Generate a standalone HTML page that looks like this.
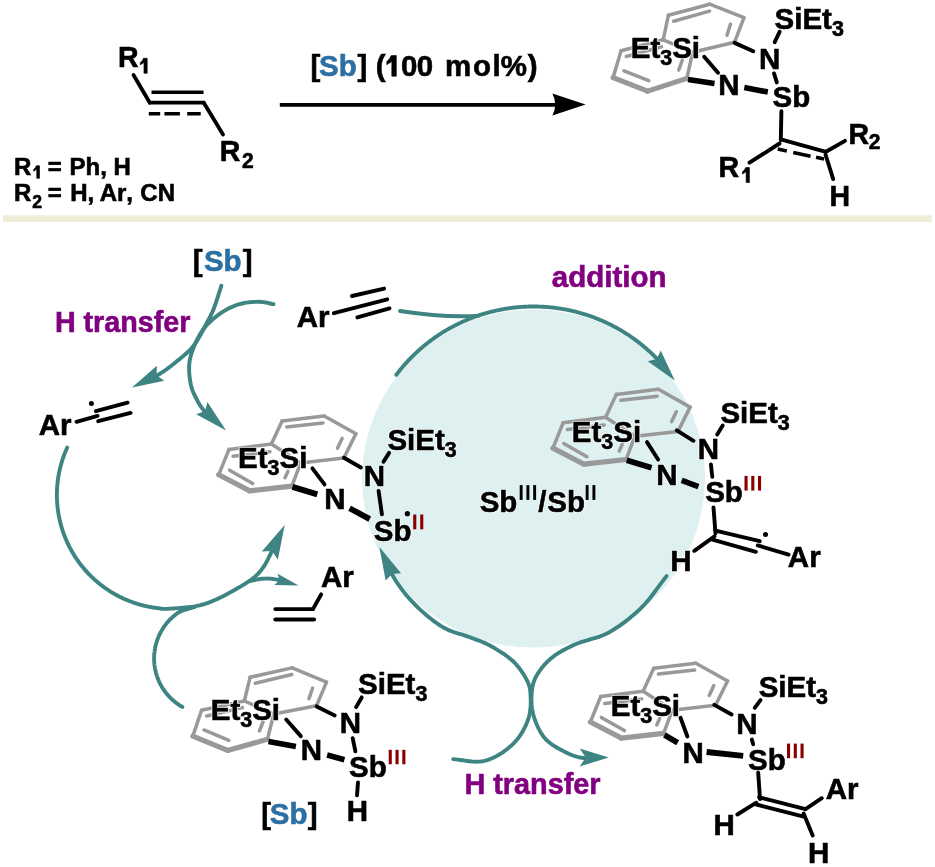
<!DOCTYPE html>
<html><head><meta charset="utf-8"><style>
html,body{margin:0;padding:0;background:#fff;}
svg{display:block;will-change:transform;}
text{white-space:pre;font-family:"Liberation Sans",sans-serif;font-weight:bold;font-kerning:none;}
</style></head><body>
<svg width="935" height="867" viewBox="0 0 935 867">
<rect width="935" height="867" fill="#fff"/>
<text transform="translate(117.99,66.50) scale(1,1.015)" font-size="28.5" fill="#fff" stroke="#fff" stroke-width="2.2" stroke-linejoin="round">R</text><text transform="translate(117.99,66.50) scale(1,1.015)" font-size="28.5" fill="#000" stroke="#000" stroke-width="0.6">R</text>
<path d="M143.53,58.24 L147.22,58.24 L147.22,73.30 L143.96,73.30 L143.96,62.54 Q141.81,64.05 140.30,64.91 L140.30,62.54 Q142.24,61.47 143.53,58.24 Z" fill="#000" stroke="#000" stroke-width="0.6" stroke-linejoin="round"/>
<line x1="133.50" y1="75.00" x2="149.80" y2="102.70" stroke="#000" stroke-width="3.8" stroke-linecap="round"/>
<line x1="149.80" y1="102.70" x2="203.80" y2="102.70" stroke="#000" stroke-width="3.8" stroke-linecap="round"/>
<line x1="203.80" y1="102.70" x2="223.00" y2="134.50" stroke="#000" stroke-width="3.8" stroke-linecap="round"/>
<line x1="151.50" y1="92.30" x2="203.50" y2="92.30" stroke="#000" stroke-width="3.6" stroke-linecap="butt"/>
<line x1="148.8" y1="113.7" x2="200.7" y2="113.7" stroke="#000" stroke-width="3.6" stroke-dasharray="11.4 4.2 15.5 7.3 13.5 100"/>
<text transform="translate(219.79,160.80) scale(1,1.015)" font-size="28.5" fill="#fff" stroke="#fff" stroke-width="2.2" stroke-linejoin="round">R</text><text transform="translate(219.79,160.80) scale(1,1.015)" font-size="28.5" fill="#000" stroke="#000" stroke-width="0.6">R</text>
<text transform="translate(242.07,167.80) scale(1,1.015)" font-size="21" fill="#fff" stroke="#fff" stroke-width="2.2" stroke-linejoin="round">2</text><text transform="translate(242.07,167.80) scale(1,1.015)" font-size="21" fill="#000" stroke="#000" stroke-width="0.6">2</text>
<text transform="translate(13.89,174.50) scale(1,1.015)" font-size="24" fill="#fff" stroke="#fff" stroke-width="2.2" stroke-linejoin="round">R</text><text transform="translate(13.89,174.50) scale(1,1.015)" font-size="24" fill="#000" stroke="#000" stroke-width="0.6">R</text>
<path d="M36.40,165.69 L39.50,165.69 L39.50,178.30 L36.76,178.30 L36.76,169.29 Q34.96,170.55 33.70,171.27 L33.70,169.29 Q35.32,168.39 36.40,165.69 Z" fill="#000" stroke="#000" stroke-width="0.6" stroke-linejoin="round"/>
<text transform="translate(47.80,174.50) scale(1,1.015)" font-size="24" fill="#fff" stroke="#fff" stroke-width="2.2" stroke-linejoin="round">=</text><text transform="translate(47.80,174.50) scale(1,1.015)" font-size="24" fill="#000" stroke="#000" stroke-width="0.6">=</text>
<text transform="translate(69.59,174.50) scale(1,1.015)" font-size="24" fill="#fff" stroke="#fff" stroke-width="2.2" stroke-linejoin="round">Ph,</text><text transform="translate(69.59,174.50) scale(1,1.015)" font-size="24" fill="#000" stroke="#000" stroke-width="0.6">Ph,</text>
<text transform="translate(113.39,174.50) scale(1,1.015)" font-size="24" fill="#fff" stroke="#fff" stroke-width="2.2" stroke-linejoin="round">H</text><text transform="translate(113.39,174.50) scale(1,1.015)" font-size="24" fill="#000" stroke="#000" stroke-width="0.6">H</text>
<text transform="translate(13.89,201.30) scale(1,1.015)" font-size="24" fill="#fff" stroke="#fff" stroke-width="2.2" stroke-linejoin="round">R</text><text transform="translate(13.89,201.30) scale(1,1.015)" font-size="24" fill="#000" stroke="#000" stroke-width="0.6">R</text>
<text transform="translate(32.19,208.20) scale(1,1.015)" font-size="17.5" fill="#fff" stroke="#fff" stroke-width="2.2" stroke-linejoin="round">2</text><text transform="translate(32.19,208.20) scale(1,1.015)" font-size="17.5" fill="#000" stroke="#000" stroke-width="0.6">2</text>
<text transform="translate(47.80,201.30) scale(1,1.015)" font-size="24" fill="#fff" stroke="#fff" stroke-width="2.2" stroke-linejoin="round">=</text><text transform="translate(47.80,201.30) scale(1,1.015)" font-size="24" fill="#000" stroke="#000" stroke-width="0.6">=</text>
<text transform="translate(70.19,201.30) scale(1,1.015)" font-size="24" fill="#fff" stroke="#fff" stroke-width="2.2" stroke-linejoin="round">H,</text><text transform="translate(70.19,201.30) scale(1,1.015)" font-size="24" fill="#000" stroke="#000" stroke-width="0.6">H,</text>
<text transform="translate(99.70,201.30) scale(1,1.015)" font-size="24" fill="#fff" stroke="#fff" stroke-width="2.2" stroke-linejoin="round">Ar,</text><text transform="translate(99.70,201.30) scale(1,1.015)" font-size="24" fill="#000" stroke="#000" stroke-width="0.6">Ar,</text>
<text transform="translate(140.32,201.30) scale(1,1.015)" font-size="24" fill="#fff" stroke="#fff" stroke-width="2.2" stroke-linejoin="round">CN</text><text transform="translate(140.32,201.30) scale(1,1.015)" font-size="24" fill="#000" stroke="#000" stroke-width="0.6">CN</text>
<text transform="translate(310.54,76.40) scale(1,1.015)" font-size="29.5" fill="#fff" stroke="#fff" stroke-width="2.2" stroke-linejoin="round">[</text><text transform="translate(310.54,76.40) scale(1,1.015)" font-size="29.5" fill="#000" stroke="#000" stroke-width="0.6">[</text>
<text transform="translate(319.05,76.40) scale(1,1.015)" font-size="29.5" fill="#fff" stroke="#fff" stroke-width="2.2" stroke-linejoin="round">Sb</text><text transform="translate(319.05,76.40) scale(1,1.015)" font-size="29.5" fill="#2c6fa3" stroke="#2c6fa3" stroke-width="0.6">Sb</text>
<text transform="translate(357.44,76.40) scale(1,1.015)" font-size="29.5" fill="#fff" stroke="#fff" stroke-width="2.2" stroke-linejoin="round">]</text><text transform="translate(357.44,76.40) scale(1,1.015)" font-size="29.5" fill="#000" stroke="#000" stroke-width="0.6">]</text>
<text transform="translate(375.63,76.40) scale(1,1.015)" font-size="29.5" fill="#fff" stroke="#fff" stroke-width="2.2" stroke-linejoin="round">(</text><text transform="translate(375.63,76.40) scale(1,1.015)" font-size="29.5" fill="#000" stroke="#000" stroke-width="0.6">(</text>
<path d="M391.23,55.54 L396.30,55.54 L396.30,76.20 L391.81,76.20 L391.81,61.44 Q388.87,63.50 386.80,64.68 L386.80,61.44 Q389.45,59.96 391.23,55.54 Z" fill="#000" stroke="#000" stroke-width="0.6" stroke-linejoin="round"/>
<text transform="translate(401.03,76.40) scale(1,1.015)" font-size="29.5" fill="#fff" stroke="#fff" stroke-width="2.2" stroke-linejoin="round">0</text><text transform="translate(401.03,76.40) scale(1,1.015)" font-size="29.5" fill="#000" stroke="#000" stroke-width="0.6">0</text>
<text transform="translate(416.73,76.40) scale(1,1.015)" font-size="29.5" fill="#fff" stroke="#fff" stroke-width="2.2" stroke-linejoin="round">0</text><text transform="translate(416.73,76.40) scale(1,1.015)" font-size="29.5" fill="#000" stroke="#000" stroke-width="0.6">0</text>
<text transform="translate(445.06,76.40) scale(1,1.015)" font-size="29.5" fill="#fff" stroke="#fff" stroke-width="2.2" stroke-linejoin="round">m</text><text transform="translate(445.06,76.40) scale(1,1.015)" font-size="29.5" fill="#000" stroke="#000" stroke-width="0.6">m</text>
<text transform="translate(473.05,76.40) scale(1,1.015)" font-size="29.5" fill="#fff" stroke="#fff" stroke-width="2.2" stroke-linejoin="round">o</text><text transform="translate(473.05,76.40) scale(1,1.015)" font-size="29.5" fill="#000" stroke="#000" stroke-width="0.6">o</text>
<text transform="translate(492.44,76.40) scale(1,1.015)" font-size="29.5" fill="#fff" stroke="#fff" stroke-width="2.2" stroke-linejoin="round">l</text><text transform="translate(492.44,76.40) scale(1,1.015)" font-size="29.5" fill="#000" stroke="#000" stroke-width="0.6">l</text>
<text transform="translate(500.77,76.40) scale(1,1.015)" font-size="29.5" fill="#fff" stroke="#fff" stroke-width="2.2" stroke-linejoin="round">%</text><text transform="translate(500.77,76.40) scale(1,1.015)" font-size="29.5" fill="#000" stroke="#000" stroke-width="0.6">%</text>
<text transform="translate(527.67,76.40) scale(1,1.015)" font-size="29.5" fill="#fff" stroke="#fff" stroke-width="2.2" stroke-linejoin="round">)</text><text transform="translate(527.67,76.40) scale(1,1.015)" font-size="29.5" fill="#000" stroke="#000" stroke-width="0.6">)</text>
<line x1="279.80" y1="104.90" x2="560.00" y2="104.90" stroke="#000" stroke-width="3.9" stroke-linecap="butt"/>
<path d="M585.6,104.6 L552.4,93.6 Q558,104.6 552.4,115.6 Z" fill="#000"/>
<line x1="668.40" y1="15.20" x2="709.70" y2="4.20" stroke="#999999" stroke-width="3.5" stroke-linecap="round"/>
<line x1="709.70" y1="4.20" x2="744.00" y2="17.70" stroke="#999999" stroke-width="3.5" stroke-linecap="round"/>
<line x1="744.00" y1="17.70" x2="734.60" y2="42.20" stroke="#999999" stroke-width="3.5" stroke-linecap="round"/>
<line x1="734.60" y1="42.20" x2="692.60" y2="52.20" stroke="#999999" stroke-width="3.5" stroke-linecap="round"/>
<line x1="692.60" y1="52.20" x2="663.20" y2="39.80" stroke="#999999" stroke-width="3.5" stroke-linecap="round"/>
<line x1="663.20" y1="39.80" x2="668.40" y2="15.20" stroke="#999999" stroke-width="3.5" stroke-linecap="round"/>
<line x1="663.20" y1="39.80" x2="621.10" y2="50.70" stroke="#999999" stroke-width="3.5" stroke-linecap="round"/>
<line x1="621.10" y1="50.70" x2="613.10" y2="77.60" stroke="#999999" stroke-width="3.5" stroke-linecap="round"/>
<line x1="686.90" y1="78.40" x2="692.60" y2="52.20" stroke="#999999" stroke-width="3.5" stroke-linecap="round"/>
<line x1="613.10" y1="77.60" x2="647.70" y2="91.10" stroke="#999999" stroke-width="5.2" stroke-linecap="round"/>
<line x1="647.70" y1="91.10" x2="686.90" y2="78.40" stroke="#999999" stroke-width="5.2" stroke-linecap="round"/>
<line x1="673.60" y1="21.30" x2="709.50" y2="11.10" stroke="#999999" stroke-width="3.5" stroke-linecap="round"/>
<line x1="730.40" y1="24.20" x2="727.00" y2="35.30" stroke="#999999" stroke-width="3.5" stroke-linecap="round"/>
<line x1="661.50" y1="46.70" x2="626.30" y2="56.50" stroke="#999999" stroke-width="3.5" stroke-linecap="round"/>
<line x1="624.00" y1="70.90" x2="648.80" y2="80.70" stroke="#999999" stroke-width="3.5" stroke-linecap="round"/>
<line x1="678.80" y1="70.00" x2="682.20" y2="60.50" stroke="#999999" stroke-width="3.5" stroke-linecap="round"/>
<text transform="translate(630.73,57.70) scale(1,1.015)" font-size="29.5" fill="#fff" stroke="#fff" stroke-width="2.2" stroke-linejoin="round">Et</text>
<text transform="translate(660.23,64.70) scale(1,1.015)" font-size="21.5" fill="#fff" stroke="#fff" stroke-width="2.2" stroke-linejoin="round">3</text>
<text transform="translate(672.18,57.70) scale(1,1.015)" font-size="29.5" fill="#fff" stroke="#fff" stroke-width="2.2" stroke-linejoin="round">Si</text>
<text transform="translate(630.73,57.70) scale(1,1.015)" font-size="29.5" fill="#000" stroke="#000" stroke-width="0.6">Et</text>
<text transform="translate(660.23,64.70) scale(1,1.015)" font-size="21.5" fill="#000" stroke="#000" stroke-width="0.6">3</text>
<text transform="translate(672.18,57.70) scale(1,1.015)" font-size="29.5" fill="#000" stroke="#000" stroke-width="0.6">Si</text>
<text transform="translate(774.55,28.80) scale(1,1.015)" font-size="29.5" fill="#fff" stroke="#fff" stroke-width="2.2" stroke-linejoin="round">SiEt</text>
<text transform="translate(831.92,35.80) scale(1,1.015)" font-size="21.5" fill="#fff" stroke="#fff" stroke-width="2.2" stroke-linejoin="round">3</text>
<text transform="translate(774.55,28.80) scale(1,1.015)" font-size="29.5" fill="#000" stroke="#000" stroke-width="0.6">SiEt</text>
<text transform="translate(831.92,35.80) scale(1,1.015)" font-size="21.5" fill="#000" stroke="#000" stroke-width="0.6">3</text>
<text transform="translate(758.93,68.50) scale(1,1.015)" font-size="29.5" fill="#fff" stroke="#fff" stroke-width="2.2" stroke-linejoin="round">N</text><text transform="translate(758.93,68.50) scale(1,1.015)" font-size="29.5" fill="#000" stroke="#000" stroke-width="0.6">N</text>
<text transform="translate(718.13,95.30) scale(1,1.015)" font-size="29.5" fill="#fff" stroke="#fff" stroke-width="2.2" stroke-linejoin="round">N</text><text transform="translate(718.13,95.30) scale(1,1.015)" font-size="29.5" fill="#000" stroke="#000" stroke-width="0.6">N</text>
<text transform="translate(772.55,106.50) scale(1,1.015)" font-size="29.5" fill="#fff" stroke="#fff" stroke-width="2.2" stroke-linejoin="round">Sb</text><text transform="translate(772.55,106.50) scale(1,1.015)" font-size="29.5" fill="#000" stroke="#000" stroke-width="0.6">Sb</text>
<line x1="734.60" y1="42.90" x2="753.30" y2="51.20" stroke="#000" stroke-width="3.9" stroke-linecap="round"/>
<line x1="774.70" y1="42.20" x2="779.60" y2="31.80" stroke="#000" stroke-width="3.9" stroke-linecap="round"/>
<line x1="774.00" y1="73.40" x2="776.80" y2="82.40" stroke="#000" stroke-width="3.9" stroke-linecap="round"/>
<line x1="704.20" y1="56.70" x2="718.00" y2="72.70" stroke="#000" stroke-width="3.9" stroke-linecap="round"/>
<line x1="688.00" y1="79.60" x2="714.50" y2="83.50" stroke="#000" stroke-width="5.6" stroke-linecap="butt"/>
<line x1="744.30" y1="87.60" x2="767.80" y2="92.00" stroke="#000" stroke-width="5.6" stroke-linecap="butt"/>
<line x1="781.40" y1="111.30" x2="780.80" y2="140.00" stroke="#000" stroke-width="3.9" stroke-linecap="round"/>
<line x1="780.80" y1="139.30" x2="825.90" y2="151.80" stroke="#000" stroke-width="3.9" stroke-linecap="round"/>
<line x1="779.50" y1="143.50" x2="749.50" y2="162.70" stroke="#000" stroke-width="3.9" stroke-linecap="round"/>
<line x1="825.90" y1="151.80" x2="845.00" y2="140.90" stroke="#000" stroke-width="3.9" stroke-linecap="round"/>
<line x1="825.50" y1="154.50" x2="833.20" y2="179.10" stroke="#000" stroke-width="3.9" stroke-linecap="round"/>
<line x1="777.7" y1="149.1" x2="824.1" y2="159.1" stroke="#000" stroke-width="3.6" stroke-dasharray="9.3 6.6 17.7 5.6 8.4 100"/>
<text transform="translate(718.59,177.30) scale(1,1.015)" font-size="28.5" fill="#fff" stroke="#fff" stroke-width="2.2" stroke-linejoin="round">R</text><text transform="translate(718.59,177.30) scale(1,1.015)" font-size="28.5" fill="#000" stroke="#000" stroke-width="0.6">R</text>
<path d="M745.73,167.44 L749.42,167.44 L749.42,182.50 L746.15,182.50 L746.15,171.74 Q744.00,173.25 742.50,174.11 L742.50,171.74 Q744.43,170.67 745.73,167.44 Z" fill="#000" stroke="#000" stroke-width="0.6" stroke-linejoin="round"/>
<text transform="translate(848.59,143.60) scale(1,1.015)" font-size="28.5" fill="#fff" stroke="#fff" stroke-width="2.2" stroke-linejoin="round">R</text><text transform="translate(848.59,143.60) scale(1,1.015)" font-size="28.5" fill="#000" stroke="#000" stroke-width="0.6">R</text>
<text transform="translate(868.77,149.10) scale(1,1.015)" font-size="21" fill="#fff" stroke="#fff" stroke-width="2.2" stroke-linejoin="round">2</text><text transform="translate(868.77,149.10) scale(1,1.015)" font-size="21" fill="#000" stroke="#000" stroke-width="0.6">2</text>
<text transform="translate(829.49,205.50) scale(1,1.015)" font-size="28.5" fill="#fff" stroke="#fff" stroke-width="2.2" stroke-linejoin="round">H</text><text transform="translate(829.49,205.50) scale(1,1.015)" font-size="28.5" fill="#000" stroke="#000" stroke-width="0.6">H</text>
<rect x="3" y="215.3" width="929" height="6.7" fill="#edecd6"/>
<ellipse cx="533.5" cy="478.5" rx="171.5" ry="169" fill="#def0f0"/>
<path d="M396.32,374.75 L396.88,374.05 L397.44,373.34 L398.00,372.63 L398.56,371.93 L399.12,371.22 L399.68,370.51 L400.24,369.81 L400.81,369.10 L401.37,368.40 L401.95,367.71 L402.53,367.02 L403.11,366.33 L403.70,365.65 L404.29,364.97 L404.89,364.29 L405.49,363.62 L406.09,362.95 L406.70,362.28 L407.31,361.62 L407.93,360.96 L408.55,360.30 L409.17,359.65 L409.79,359.00 L410.42,358.35 L411.05,357.71 L411.68,357.07 L412.32,356.43 L412.96,355.80 L413.61,355.17 L414.26,354.54 L414.91,353.92 L415.56,353.30 L416.22,352.68 L416.88,352.07 L417.55,351.46 L418.22,350.85 L418.89,350.25 L419.56,349.65 L420.24,349.06 L420.92,348.47 L421.60,347.88 L422.29,347.29 L422.98,346.71 L423.67,346.13 L424.36,345.56 L425.06,344.99 L425.76,344.42 L426.47,343.86 L427.18,343.30 L427.89,342.74 L428.60,342.19 L429.31,341.64 L430.03,341.10 L430.76,340.56 L431.48,340.02 L432.21,339.49 L432.94,338.96 L433.67,338.44 L434.41,337.91 L435.14,337.40 L435.88,336.88 L436.63,336.37 L437.37,335.87 L438.12,335.37 L438.88,334.87 L439.63,334.37 L440.39,333.88 L441.15,333.40 L441.91,332.91 L442.67,332.44 L443.44,331.96 L444.21,331.49 L444.98,331.03 L445.76,330.56 L446.53,330.11 L447.31,329.65 L448.09,329.20 L448.88,328.76 L449.66,328.32 L450.45,327.88 L451.24,327.44 L452.04,327.02 L452.83,326.59 L453.63,326.17 L454.43,325.75 L455.23,325.34 L456.03,324.93 L456.84,324.53 L457.65,324.13 L458.46,323.73 L459.27,323.34 L460.09,322.96 L460.90,322.57 L461.72,322.19 L462.54,321.82 L463.36,321.45 L464.19,321.08 L465.01,320.72 L465.84,320.37 L466.67,320.01 L467.50,319.67 L468.34,319.32 L469.17,318.98 L470.01,318.65 L470.85,318.32 L471.69,317.99 L472.53,317.67 L473.37,317.35 L474.22,317.04 L475.07,316.73 L475.92,316.43 L476.77,316.13 L477.62,315.83 L478.47,315.54 L479.33,315.25 L480.18,314.97 L481.04,314.69 L481.90,314.42 L482.76,314.15 L483.62,313.89 L484.49,313.63 L485.35,313.38 L486.22,313.13 L487.09,312.88 L487.95,312.64 L488.83,312.40 L489.70,312.17 L490.57,311.94 L491.44,311.72 L492.32,311.50 L493.19,311.29 L494.07,311.08 L494.95,310.88 L495.83,310.68 L496.71,310.48 L497.59,310.29 L498.47,310.10 L499.36,309.92 L500.24,309.75 L501.13,309.57 L502.01,309.41 L502.90,309.24 L503.79,309.09 L504.67,308.93 L505.56,308.78 L506.45,308.64 L507.34,308.50 L508.23,308.37 L509.13,308.24 L510.02,308.11 L510.91,307.99 L511.81,307.87 L512.70,307.76 L513.60,307.66 L514.49,307.55 L515.39,307.46 L516.29,307.36 L517.18,307.28 L518.08,307.19 L518.98,307.11 L519.88,307.04 L520.78,306.97 L521.68,306.91 L522.58,306.85 L523.48,306.79 L524.38,306.74 L525.28,306.70 L526.18,306.66 L527.08,306.62 L527.98,306.59 L528.88,306.56 L529.78,306.54 L530.69,306.52 L531.59,306.51 L532.49,306.50 L533.39,306.50 L534.29,306.50 L535.19,306.51 L536.10,306.52 L537.00,306.54 L537.90,306.56 L538.80,306.58 L539.70,306.61 L540.60,306.65 L541.50,306.69 L542.40,306.73 L543.30,306.78 L544.20,306.83 L545.10,306.89 L546.00,306.96 L546.90,307.02 L547.80,307.10 L548.70,307.17 L549.60,307.25 L550.49,307.34 L551.39,307.43 L552.29,307.53 L553.18,307.63 L554.08,307.74 L554.98,307.85 L555.87,307.96 L556.76,308.08 L557.66,308.20 L558.55,308.33 L559.44,308.47 L560.33,308.61 L561.22,308.75 L562.11,308.90 L563.00,309.05 L563.89,309.21 L564.77,309.37 L565.66,309.53 L566.55,309.70 L567.43,309.88 L568.31,310.06 L569.20,310.24 L570.08,310.43 L570.96,310.63 L571.84,310.83 L572.72,311.03 L573.59,311.24 L574.47,311.45 L575.35,311.67 L576.22,311.89 L577.09,312.12 L577.96,312.35 L578.83,312.58 L579.70,312.82 L580.57,313.07 L581.44,313.32 L582.30,313.57 L583.17,313.83 L584.03,314.09 L584.89,314.36 L585.75,314.63 L586.61,314.90 L587.47,315.19 L588.32,315.47 L589.18,315.76 L590.03,316.05 L590.88,316.35 L591.73,316.66 L592.57,316.96 L593.42,317.27 L594.27,317.59 L595.11,317.91 L595.95,318.24 L596.79,318.57 L597.63,318.90 L598.46,319.24 L599.30,319.58 L600.13,319.93 L600.96,320.28 L601.79,320.64 L602.61,321.00 L603.44,321.36 L604.26,321.73 L605.08,322.10 L605.90,322.48 L606.72,322.86 L607.53,323.25 L608.35,323.64 L609.16,324.03 L609.96,324.43 L610.77,324.83 L611.58,325.24 L612.38,325.65 L613.18,326.07 L613.98,326.49 L614.77,326.91 L615.57,327.34 L616.36,327.77 L617.15,328.21 L617.93,328.65 L618.72,329.09 L619.50,329.54 L620.28,330.00 L621.06,330.45 L621.83,330.91 L622.60,331.38 L623.37,331.85 L624.14,332.32 L624.91,332.80 L625.67,333.28 L626.43,333.77 L627.19,334.25 L627.94,334.75 L628.69,335.24 L629.44,335.74 L630.19,336.25 L630.93,336.76 L631.68,337.27 L632.41,337.79 L633.15,338.31 L633.89,338.83 L634.62,339.36 L635.34,339.89 L636.07,340.43 L636.79,340.97 L637.51,341.51 L638.23,342.06 L638.94,342.61 L639.65,343.16 L640.36,343.72 L641.07,344.28 L641.77,344.85 L642.47,345.42 L643.16,345.99 L643.86,346.57 L644.55,347.15 L645.23,347.73 L645.92,348.32 L646.60,348.91 L647.28,349.51 L647.95,350.11 L648.62,350.71 L649.29,351.31 L649.96,351.92 L650.62,352.53 L651.28,353.15 L651.93,353.77 L652.58,354.39 L653.23,355.02 L653.88,355.65 L654.52,356.28 L655.16,356.91 L655.80,357.55 L656.43,358.20 L657.06,358.84 L657.68,359.49" stroke="#3d8482" stroke-width="3.9" fill="none" stroke-linecap="round" stroke-linejoin="round"/>
<polygon points="674.79,380.41 647.70,361.37 656.78,358.97 660.72,350.44" fill="#3d8482"/>
<path d="M400,311 C425,314.8 455,317.6 479,315.6" stroke="#3d8482" stroke-width="3.9" fill="none" stroke-linecap="round"/>
<path d="M453.20,759.10 L455.50,759.33 L457.85,759.62 L460.21,759.95 L462.59,760.29 L464.96,760.64 L467.32,760.96 L469.67,761.25 L471.97,761.49 L474.23,761.65 L476.43,761.71 L478.55,761.67 L480.60,761.50 L482.57,761.21 L484.47,760.83 L486.31,760.37 L488.09,759.83 L489.83,759.21 L491.53,758.52 L493.19,757.78 L494.83,756.97 L496.44,756.12 L498.04,755.22 L499.62,754.28 L501.20,753.30 L502.78,752.28 L504.35,751.19 L505.92,750.04 L507.47,748.84 L508.99,747.58 L510.49,746.28 L511.95,744.94 L513.37,743.55 L514.74,742.13 L516.05,740.68 L517.31,739.20 L518.50,737.70 L519.64,736.15 L520.73,734.55 L521.79,732.89 L522.80,731.18 L523.76,729.44 L524.67,727.67 L525.53,725.89 L526.33,724.10 L527.07,722.30 L527.75,720.51 L528.36,718.74 L528.90,717.00 L529.36,715.25 L529.75,713.48 L530.06,711.69 L530.30,709.88 L530.49,708.08 L530.62,706.28 L530.70,704.50 L530.74,702.75 L530.74,701.04 L530.72,699.37 L530.67,697.75 L530.60,696.20 L530.52,694.73 L530.44,693.34 L530.33,692.02 L530.20,690.74 L530.03,689.51 L529.82,688.29 L529.55,687.08 L529.22,685.87 L528.82,684.62 L528.34,683.34 L527.77,682.01 L527.10,680.60 L526.34,679.12 L525.50,677.58 L524.58,675.99 L523.59,674.36 L522.52,672.71 L521.39,671.04 L520.19,669.38 L518.93,667.73 L517.60,666.10 L516.22,664.52 L514.79,662.98 L513.30,661.50 L511.72,660.06 L510.03,658.63 L508.25,657.21 L506.38,655.81 L504.46,654.44 L502.49,653.10 L500.50,651.79 L498.50,650.53 L496.51,649.31 L494.55,648.15 L492.64,647.04 L490.80,646.00 L489.03,645.04 L487.31,644.17 L485.63,643.38 L483.97,642.65 L482.33,641.96 L480.68,641.31 L479.02,640.68 L477.33,640.05 L475.60,639.41 L473.81,638.75 L471.94,638.05 L470.00,637.30 L467.97,636.55 L465.87,635.84 L463.70,635.16 L461.48,634.49 L459.22,633.80 L456.93,633.09 L454.61,632.34 L452.27,631.51 L449.94,630.61 L447.61,629.60 L445.29,628.47 L443.00,627.20 L440.70,625.79 L438.36,624.25 L435.98,622.59 L433.59,620.84 L431.20,619.01 L428.81,617.11 L426.45,615.15 L424.12,613.14 L421.84,611.11 L419.61,609.07 L417.46,607.03 L415.40,605.00 L413.41,602.97 L411.47,600.93 L409.59,598.86 L407.76,596.77 L405.97,594.66 L404.22,592.51 L402.53,590.32 L400.87,588.10 L399.25,585.84 L397.66,583.54 L396.12,581.20 L394.60,578.80 L393.14,576.34 L391.74,573.81" stroke="#3d8482" stroke-width="3.9" fill="none" stroke-linecap="round" stroke-linejoin="round"/>
<polygon points="379.40,546.90 401.06,573.21 392.09,574.09 385.65,580.40" fill="#3d8482"/>
<path d="M666.60,576.10 L664.46,578.82 L662.36,581.58 L660.28,584.36 L658.20,587.16 L656.13,589.96 L654.05,592.75 L651.95,595.51 L649.81,598.23 L647.63,600.89 L645.39,603.48 L643.08,605.99 L640.70,608.40 L638.23,610.75 L635.69,613.06 L633.08,615.34 L630.41,617.57 L627.70,619.75 L624.95,621.86 L622.18,623.90 L619.40,625.86 L616.62,627.73 L613.86,629.49 L611.11,631.16 L608.40,632.70 L605.68,634.09 L602.93,635.30 L600.15,636.37 L597.35,637.33 L594.56,638.19 L591.78,638.99 L589.02,639.75 L586.30,640.51 L583.64,641.28 L581.04,642.11 L578.53,643.00 L576.10,644.00 L573.75,645.06 L571.44,646.13 L569.18,647.21 L566.97,648.31 L564.81,649.43 L562.71,650.57 L560.66,651.74 L558.68,652.93 L556.76,654.16 L554.90,655.43 L553.12,656.74 L551.40,658.10 L549.75,659.51 L548.14,660.98 L546.60,662.50 L545.11,664.07 L543.68,665.66 L542.32,667.29 L541.04,668.93 L539.83,670.58 L538.69,672.23 L537.64,673.87 L536.68,675.50 L535.80,677.10 L535.02,678.68 L534.35,680.26 L533.77,681.83 L533.28,683.40 L532.86,684.97 L532.52,686.54 L532.24,688.12 L532.01,689.70 L531.83,691.30 L531.69,692.92 L531.58,694.55 L531.50,696.20 L531.45,697.87 L531.43,699.57 L531.46,701.28 L531.54,703.01 L531.66,704.75 L531.83,706.50 L532.05,708.25 L532.33,710.01 L532.66,711.77 L533.05,713.52 L533.49,715.26 L534.00,717.00 L534.57,718.75 L535.19,720.55 L535.88,722.37 L536.62,724.21 L537.41,726.04 L538.26,727.86 L539.16,729.65 L540.11,731.40 L541.12,733.10 L542.16,734.72 L543.26,736.26 L544.40,737.70 L545.60,739.05 L546.87,740.33 L548.21,741.54 L549.60,742.69 L551.05,743.78 L552.53,744.83 L554.05,745.82 L555.60,746.78 L557.16,747.70 L558.74,748.59 L560.32,749.45 L561.90,750.30 L563.47,751.13 L565.05,751.94 L566.63,752.72 L568.23,753.47 L569.85,754.19 L571.49,754.86 L573.16,755.49 L574.87,756.07 L576.62,756.60 L578.43,757.07 L580.28,757.47 L582.20,757.80 L584.19,758.04 L586.26,758.19" stroke="#3d8482" stroke-width="3.9" fill="none" stroke-linecap="round" stroke-linejoin="round"/>
<polygon points="608.70,757.40 579.72,766.47 585.70,757.45 579.68,748.47" fill="#3d8482"/>
<text transform="translate(192.74,271.30) scale(1,1.015)" font-size="29.5" fill="#fff" stroke="#fff" stroke-width="2.2" stroke-linejoin="round">[</text><text transform="translate(192.74,271.30) scale(1,1.015)" font-size="29.5" fill="#000" stroke="#000" stroke-width="0.6">[</text>
<text transform="translate(203.95,271.30) scale(1,1.015)" font-size="29.5" fill="#fff" stroke="#fff" stroke-width="2.2" stroke-linejoin="round">Sb</text><text transform="translate(203.95,271.30) scale(1,1.015)" font-size="29.5" fill="#2c6fa3" stroke="#2c6fa3" stroke-width="0.6">Sb</text>
<text transform="translate(242.64,271.30) scale(1,1.015)" font-size="29.5" fill="#fff" stroke="#fff" stroke-width="2.2" stroke-linejoin="round">]</text><text transform="translate(242.64,271.30) scale(1,1.015)" font-size="29.5" fill="#000" stroke="#000" stroke-width="0.6">]</text>
<text transform="translate(54.88,332.00) scale(1,1.015)" font-size="28.7" fill="#fff" stroke="#fff" stroke-width="2.2" stroke-linejoin="round">H transfer</text><text transform="translate(54.88,332.00) scale(1,1.015)" font-size="28.7" fill="#800080" stroke="#800080" stroke-width="0.6">H transfer</text>
<path d="M221.40,285.70 L220.78,287.58 L220.16,289.51 L219.53,291.47 L218.91,293.44 L218.28,295.41 L217.66,297.37 L217.03,299.30 L216.41,301.18 L215.80,303.01 L215.19,304.76 L214.59,306.43 L214.00,308.00 L213.44,309.43 L212.92,310.70 L212.44,311.86 L211.97,312.92 L211.51,313.93 L211.04,314.91 L210.55,315.90 L210.03,316.92 L209.45,318.01 L208.81,319.20 L208.10,320.52 L207.30,322.00 L206.41,323.66 L205.46,325.48 L204.45,327.43 L203.38,329.47 L202.26,331.58 L201.10,333.73 L199.90,335.89 L198.68,338.02 L197.43,340.10 L196.16,342.09 L194.88,343.97 L193.60,345.70 L192.30,347.31 L190.96,348.83 L189.60,350.29 L188.20,351.68 L186.79,353.01 L185.35,354.31 L183.90,355.56 L182.43,356.79 L180.95,358.00 L179.47,359.20 L177.98,360.39 L176.50,361.60 L175.03,362.80 L173.58,363.96 L172.15,365.10 L170.71,366.21 L169.27,367.31 L167.81,368.39 L166.31,369.47 L164.77,370.53 L163.19,371.59 L161.53,372.65 L159.81,373.72 L158.00,374.80 L156.10,375.88" stroke="#3d8482" stroke-width="3.9" fill="none" stroke-linecap="round" stroke-linejoin="round"/>
<polygon points="132.00,387.60 156.88,365.80 156.61,375.32 164.38,380.83" fill="#3d8482"/>
<path d="M273.50,304.20 L272.31,303.99 L271.15,303.75 L270.01,303.49 L268.87,303.23 L267.74,302.97 L266.59,302.71 L265.43,302.47 L264.25,302.26 L263.03,302.08 L261.77,301.93 L260.46,301.84 L259.10,301.80 L257.67,301.80 L256.17,301.83 L254.63,301.89 L253.03,301.97 L251.41,302.09 L249.76,302.24 L248.10,302.43 L246.44,302.65 L244.79,302.92 L243.16,303.23 L241.56,303.59 L240.00,304.00 L238.47,304.46 L236.94,304.95 L235.42,305.50 L233.91,306.08 L232.41,306.71 L230.92,307.38 L229.44,308.08 L227.97,308.83 L226.51,309.62 L225.06,310.44 L223.62,311.30 L222.20,312.20 L220.77,313.15 L219.34,314.15 L217.89,315.20 L216.45,316.30 L215.02,317.44 L213.61,318.61 L212.23,319.81 L210.88,321.03 L209.58,322.26 L208.32,323.51 L207.13,324.76 L206.00,326.00 L204.94,327.24 L203.93,328.49 L202.98,329.75 L202.08,331.02 L201.22,332.31 L200.39,333.61 L199.60,334.94 L198.84,336.29 L198.11,337.67 L197.39,339.08 L196.69,340.52 L196.00,342.00 L195.31,343.52 L194.63,345.09 L193.95,346.70 L193.30,348.33 L192.66,350.00 L192.06,351.69 L191.50,353.39 L190.98,355.11 L190.52,356.84 L190.11,358.56 L189.77,360.29 L189.50,362.00 L189.31,363.73 L189.18,365.51 L189.12,367.32 L189.11,369.15 L189.16,370.98 L189.25,372.81 L189.38,374.62 L189.56,376.41 L189.76,378.15 L189.99,379.84 L190.24,381.46 L190.50,383.00 L190.79,384.46 L191.11,385.85 L191.46,387.19 L191.85,388.47 L192.27,389.71 L192.71,390.91 L193.19,392.10 L193.70,393.27 L194.23,394.43 L194.79,395.60 L195.38,396.79 L196.00,398.00 L196.62,399.21 L197.24,400.39 L197.86,401.56 L198.49,402.71 L199.16,403.86 L199.86,405.01 L200.62,406.18 L201.44,407.36 L202.34,408.56 L203.32,409.80 L204.41,411.08 L205.60,412.40" stroke="#3d8482" stroke-width="3.9" fill="none" stroke-linecap="round" stroke-linejoin="round"/>
<polygon points="226.10,430.40 196.19,414.18 205.12,411.11 207.42,401.96" fill="#3d8482"/>
<text transform="translate(296.77,326.60) scale(1,1.015)" font-size="29.5" fill="#fff" stroke="#fff" stroke-width="2.2" stroke-linejoin="round">Ar</text><text transform="translate(296.77,326.60) scale(1,1.015)" font-size="29.5" fill="#000" stroke="#000" stroke-width="0.6">Ar</text>
<line x1="333.90" y1="313.20" x2="387.30" y2="299.30" stroke="#000" stroke-width="3.9" stroke-linecap="round"/>
<line x1="352.00" y1="296.00" x2="384.10" y2="288.60" stroke="#000" stroke-width="3.9" stroke-linecap="round"/>
<line x1="357.40" y1="317.40" x2="389.50" y2="308.40" stroke="#000" stroke-width="3.9" stroke-linecap="round"/>
<text transform="translate(551.84,287.20) scale(1,1.015)" font-size="29.5" fill="#fff" stroke="#fff" stroke-width="2.2" stroke-linejoin="round">addition</text><text transform="translate(551.84,287.20) scale(1,1.015)" font-size="29.5" fill="#800080" stroke="#800080" stroke-width="0.6">addition</text>
<text transform="translate(38.67,435.30) scale(1,1.015)" font-size="29.5" fill="#fff" stroke="#fff" stroke-width="2.2" stroke-linejoin="round">Ar</text><text transform="translate(38.67,435.30) scale(1,1.015)" font-size="29.5" fill="#000" stroke="#000" stroke-width="0.6">Ar</text>
<line x1="76.50" y1="421.80" x2="97.60" y2="415.90" stroke="#000" stroke-width="3.9" stroke-linecap="round"/>
<circle cx="91.40" cy="403.50" r="2.5" fill="#000"/>
<line x1="95.90" y1="411.20" x2="127.60" y2="402.70" stroke="#000" stroke-width="3.9" stroke-linecap="round"/>
<line x1="98.20" y1="421.20" x2="130.60" y2="412.90" stroke="#000" stroke-width="3.9" stroke-linecap="round"/>
<path d="M67.16,447.62 L66.91,448.24 L66.65,448.85 L66.39,449.47 L66.13,450.08 L65.86,450.69 L65.60,451.31 L65.34,451.92 L65.09,452.53 L64.83,453.15 L64.59,453.77 L64.34,454.39 L64.11,455.01 L63.88,455.63 L63.65,456.26 L63.42,456.89 L63.20,457.52 L62.99,458.15 L62.77,458.78 L62.56,459.41 L62.36,460.04 L62.16,460.68 L61.96,461.32 L61.76,461.95 L61.57,462.59 L61.39,463.23 L61.20,463.87 L61.02,464.51 L60.85,465.15 L60.68,465.80 L60.51,466.44 L60.34,467.09 L60.18,467.74 L60.03,468.38 L59.87,469.03 L59.72,469.68 L59.58,470.33 L59.44,470.98 L59.30,471.63 L59.17,472.28 L59.04,472.94 L58.91,473.59 L58.79,474.25 L58.67,474.90 L58.55,475.56 L58.44,476.22 L58.33,476.87 L58.23,477.53 L58.13,478.19 L58.04,478.85 L57.94,479.51 L57.86,480.17 L57.77,480.83 L57.69,481.49 L57.61,482.15 L57.54,482.82 L57.47,483.48 L57.41,484.14 L57.35,484.81 L57.29,485.47 L57.24,486.13 L57.19,486.80 L57.14,487.46 L57.10,488.13 L57.06,488.79 L57.03,489.46 L57.00,490.12 L56.97,490.79 L56.95,491.45 L56.93,492.12 L56.92,492.79 L56.91,493.45 L56.90,494.12 L56.90,494.78 L56.90,495.45 L56.91,496.12 L56.92,496.78 L56.93,497.45 L56.95,498.12 L56.97,498.78 L56.99,499.45 L57.02,500.11 L57.05,500.78 L57.09,501.44 L57.13,502.11 L57.17,502.77 L57.22,503.44 L57.27,504.10 L57.33,504.76 L57.39,505.43 L57.45,506.09 L57.52,506.75 L57.59,507.42 L57.66,508.08 L57.74,508.74 L57.83,509.40 L57.91,510.06 L58.00,510.72 L58.10,511.38 L58.20,512.04 L58.30,512.70 L58.40,513.36 L58.51,514.01 L58.63,514.67 L58.74,515.33 L58.87,515.98 L58.99,516.64 L59.12,517.29 L59.25,517.94 L59.39,518.59 L59.53,519.24 L59.67,519.89 L59.82,520.54 L59.97,521.19 L60.13,521.84 L60.29,522.49 L60.45,523.13 L60.62,523.78 L60.79,524.42 L60.96,525.07 L61.14,525.71 L61.32,526.35 L61.51,526.99 L61.70,527.63 L61.89,528.26 L62.09,528.90 L62.29,529.54 L62.49,530.17 L62.70,530.80 L62.91,531.44 L63.13,532.07 L63.35,532.69 L63.57,533.32 L63.80,533.95 L64.03,534.57 L64.26,535.20 L64.50,535.82 L64.74,536.44 L64.98,537.06 L65.23,537.68 L65.48,538.30 L65.74,538.91 L66.00,539.53 L66.26,540.14 L66.53,540.75 L66.80,541.36 L67.07,541.96 L67.35,542.57 L67.63,543.17 L67.91,543.78 L68.20,544.38 L68.49,544.98 L68.78,545.58 L69.08,546.17 L69.38,546.77 L69.69,547.36 L69.99,547.95 L70.31,548.54 L70.62,549.12 L70.94,549.71 L71.26,550.29 L71.59,550.87 L71.92,551.45 L72.25,552.03 L72.58,552.61 L72.92,553.18 L73.27,553.75 L73.61,554.32 L73.96,554.89 L74.31,555.45 L74.67,556.02 L75.03,556.58 L75.39,557.14 L75.75,557.69 L76.12,558.25 L76.49,558.80 L76.87,559.35 L77.25,559.90 L77.63,560.45 L78.01,560.99 L78.40,561.53 L78.79,562.07 L79.19,562.61 L79.58,563.14 L79.98,563.68 L80.39,564.21 L80.79,564.73 L81.20,565.26 L81.62,565.78 L82.03,566.30 L82.45,566.82 L82.87,567.34 L83.30,567.85 L83.73,568.36 L84.16,568.87 L84.59,569.37 L85.03,569.88 L85.47,570.38 L85.91,570.88 L86.35,571.37 L86.80,571.87 L87.25,572.36 L87.71,572.84 L88.16,573.33 L88.62,573.81 L89.09,574.29 L89.55,574.77 L90.02,575.24 L90.49,575.71 L90.96,576.18 L91.44,576.65 L91.92,577.11 L92.40,577.57 L92.89,578.03 L93.37,578.48 L93.86,578.93 L94.36,579.38 L94.85,579.83 L95.35,580.27 L95.85,580.71 L96.35,581.15 L96.86,581.58 L97.36,582.01 L97.87,582.44 L98.39,582.87 L98.90,583.29 L99.42,583.71 L99.94,584.12 L100.46,584.54 L100.99,584.95 L101.51,585.35 L102.04,585.76 L102.58,586.16 L103.11,586.56 L103.65,586.95 L104.19,587.34 L104.73,587.73 L105.27,588.12 L105.82,588.50 L106.37,588.88 L106.92,589.25 L107.47,589.62 L108.02,589.99 L108.58,590.36 L109.14,590.72 L109.70,591.08 L110.26,591.44 L110.83,591.79 L111.40,592.14 L111.97,592.48 L112.54,592.83 L113.11,593.17 L113.68,593.50 L114.26,593.83 L114.84,594.16 L115.42,594.49 L116.00,594.81 L116.59,595.13 L117.18,595.45 L117.77,595.76 L118.36,596.07 L118.95,596.37 L119.54,596.68 L120.14,596.97 L120.73,597.27 L121.33,597.56 L121.93,597.85 L122.54,598.13 L123.14,598.41 L123.75,598.69 L124.35,598.96 L124.96,599.23 L125.57,599.50 L126.19,599.76 L126.80,600.02 L127.41,600.28 L128.03,600.53 L128.65,600.78 L129.27,601.03 L129.89,601.27 L130.51,601.51 L131.13,601.74 L131.76,601.97 L132.39,602.20 L133.01,602.42 L133.64,602.64 L134.27,602.86 L134.90,603.07 L135.54,603.28 L136.17,603.48 L136.81,603.68 L137.44,603.88 L138.08,604.07 L138.72,604.26 L139.36,604.45 L140.00,604.63 L140.64,604.81 L141.28,604.99 L141.93,605.16 L142.57,605.32 L143.22,605.49 L143.86,605.65 L144.51,605.80 L145.16,605.96 L145.81,606.10 L146.46,606.25 L147.11,606.39 L147.76,606.53 L148.42,606.66 L149.07,606.79 L149.72,606.92 L150.38,607.04 L151.03,607.16 L151.69,607.27 L152.35,607.38 L153.00,607.49 L153.66,607.59 L154.32,607.69 L154.98,607.78 L155.64,607.87 L156.30,607.96 L156.96,608.04 L157.62,608.12 L158.29,608.20 L158.95,608.27 L159.55,608.35 L160.04,608.43 L160.47,608.52 L160.86,608.61 L161.25,608.70 L161.67,608.78 L162.17,608.84 L162.77,608.89 L163.51,608.92 L164.43,608.92 L165.55,608.89 L166.92,608.83 L168.59,608.74 L170.54,608.63 L172.74,608.49 L175.13,608.34 L177.66,608.16 L180.28,607.96 L182.93,607.74 L185.58,607.50 L188.15,607.23 L190.62,606.95 L192.92,606.64 L195.00,606.30 L196.89,605.94 L198.67,605.57 L200.36,605.18 L201.96,604.76 L203.50,604.32 L204.99,603.86 L206.45,603.37 L207.90,602.86 L209.35,602.31 L210.82,601.74 L212.33,601.14 L213.90,600.50 L215.51,599.82 L217.12,599.11 L218.75,598.35 L220.39,597.57 L222.02,596.75 L223.66,595.91 L225.30,595.05 L226.94,594.18 L228.57,593.29 L230.19,592.40 L231.80,591.50 L233.40,590.60 L235.01,589.69 L236.65,588.76 L238.31,587.82 L239.98,586.86 L241.64,585.88 L243.28,584.90 L244.89,583.91 L246.47,582.92 L247.99,581.93 L249.44,580.95 L250.81,579.97 L252.10,579.00 L253.29,578.05 L254.40,577.14 L255.44,576.24 L256.41,575.34 L257.34,574.45 L258.21,573.56 L259.06,572.64 L259.87,571.70 L260.68,570.72 L261.48,569.70 L262.28,568.63 L263.10,567.50 L263.90,566.33 L264.66,565.15 L265.38,563.95 L266.08,562.72 L266.76,561.46 L267.44,560.15 L268.13,558.79 L268.83,557.38 L269.56,555.90 L270.32,554.35 L271.13,552.72 L272.00,551.00" stroke="#3d8482" stroke-width="3.9" fill="none" stroke-linecap="round" stroke-linejoin="round"/>
<polygon points="284.70,525.10 277.87,559.40 272.00,550.95 261.71,551.46" fill="#3d8482"/>
<path d="M250.00,581.00 L251.09,580.80 L252.18,580.58 L253.26,580.35 L254.34,580.11 L255.42,579.88 L256.51,579.65 L257.59,579.43 L258.68,579.23 L259.78,579.05 L260.88,578.90 L261.98,578.78 L263.10,578.70 L264.20,578.65 L265.27,578.61 L266.32,578.58 L267.36,578.57 L268.40,578.59 L269.46,578.63 L270.55,578.70 L271.69,578.80 L272.88,578.94 L274.13,579.12 L275.47,579.34 L276.90,579.60 L278.43,579.92 L280.06,580.30" stroke="#3d8482" stroke-width="3.9" fill="none" stroke-linecap="round" stroke-linejoin="round"/>
<polygon points="298.60,585.60 274.47,585.05 279.42,580.30 277.62,573.68" fill="#3d8482"/>
<path d="M182.41,706.94 L182.13,706.77 L181.85,706.60 L181.57,706.44 L181.29,706.27 L181.01,706.10 L180.73,705.94 L180.45,705.77 L180.18,705.60 L179.90,705.43 L179.62,705.26 L179.35,705.08 L179.08,704.91 L178.81,704.73 L178.54,704.55 L178.27,704.36 L178.00,704.18 L177.73,703.99 L177.47,703.80 L177.20,703.61 L176.94,703.42 L176.68,703.23 L176.42,703.04 L176.16,702.84 L175.90,702.65 L175.64,702.45 L175.38,702.25 L175.13,702.05 L174.87,701.84 L174.62,701.64 L174.37,701.43 L174.12,701.22 L173.87,701.02 L173.62,700.81 L173.38,700.59 L173.13,700.38 L172.89,700.17 L172.64,699.95 L172.40,699.73 L172.16,699.51 L171.92,699.29 L171.68,699.07 L171.45,698.85 L171.21,698.62 L170.98,698.40 L170.74,698.17 L170.51,697.94 L170.28,697.71 L170.06,697.48 L169.83,697.25 L169.60,697.02 L169.38,696.78 L169.15,696.54 L168.93,696.31 L168.71,696.07 L168.49,695.83 L168.28,695.59 L168.06,695.34 L167.84,695.10 L167.63,694.85 L167.42,694.61 L167.21,694.36 L167.00,694.11 L166.79,693.86 L166.59,693.61 L166.38,693.36 L166.18,693.10 L165.98,692.85 L165.78,692.59 L165.58,692.33 L165.38,692.07 L165.19,691.81 L164.99,691.55 L164.80,691.29 L164.61,691.03 L164.42,690.76 L164.23,690.50 L164.04,690.23 L163.86,689.96 L163.68,689.70 L163.49,689.43 L163.31,689.16 L163.14,688.88 L162.96,688.61 L162.78,688.34 L162.61,688.06 L162.44,687.79 L162.27,687.51 L162.10,687.23 L161.93,686.95 L161.77,686.67 L161.60,686.39 L161.44,686.11 L161.28,685.83 L161.12,685.54 L160.96,685.26 L160.81,684.97 L160.65,684.69 L160.50,684.40 L160.35,684.11 L160.20,683.82 L160.05,683.53 L159.91,683.24 L159.76,682.95 L159.62,682.66 L159.48,682.37 L159.34,682.07 L159.21,681.78 L159.07,681.48 L158.94,681.18 L158.81,680.89 L158.68,680.59 L158.55,680.29 L158.42,679.99 L158.30,679.69 L158.17,679.39 L158.05,679.09 L157.93,678.79 L157.81,678.48 L157.70,678.18 L157.58,677.87 L157.47,677.57 L157.36,677.26 L157.25,676.96 L157.15,676.65 L157.04,676.34 L156.94,676.03 L156.84,675.73 L156.74,675.42 L156.64,675.11 L156.54,674.80 L156.45,674.48 L156.35,674.17 L156.26,673.86 L156.18,673.55 L156.09,673.23 L156.00,672.92 L155.92,672.61 L155.84,672.29 L155.76,671.98 L155.68,671.66 L155.60,671.34 L155.53,671.03 L155.46,670.71 L155.39,670.39 L155.32,670.08 L155.25,669.76 L155.19,669.44 L155.12,669.12 L155.06,668.80 L155.00,668.48 L154.95,668.16 L154.89,667.84 L154.84,667.52 L154.78,667.20 L154.73,666.88 L154.69,666.56 L154.64,666.23 L154.60,665.91 L154.55,665.59 L154.51,665.27 L154.47,664.94 L154.44,664.62 L154.40,664.30 L154.37,663.97 L154.34,663.65 L154.31,663.33 L154.28,663.00 L154.26,662.68 L154.23,662.35 L154.21,662.03 L154.19,661.71 L154.17,661.38 L154.16,661.06 L154.14,660.73 L154.13,660.41 L154.12,660.08 L154.11,659.76 L154.11,659.43 L154.10,659.11 L154.10,658.78 L154.10,658.46 L154.10,658.13 L154.10,657.81 L154.11,657.48 L154.12,657.16 L154.13,656.83 L154.14,656.51 L154.15,656.18 L154.16,655.86 L154.18,655.53 L154.20,655.21 L154.22,654.88 L154.24,654.56 L154.26,654.23 L154.29,653.91 L154.32,653.59 L154.35,653.26 L154.38,652.94 L154.41,652.61 L154.45,652.29 L154.49,651.97 L154.52,651.65 L154.57,651.32 L154.61,651.00 L154.65,650.68 L154.70,650.36 L154.75,650.04 L154.80,649.71 L154.85,649.39 L154.91,649.07 L154.96,648.75 L155.02,648.43 L155.08,648.11 L155.14,647.79 L155.20,647.47 L155.27,647.16 L155.34,646.84 L155.41,646.52 L155.48,646.20 L155.55,645.89 L155.62,645.57 L155.70,645.25 L155.78,644.94 L155.86,644.62 L155.94,644.31 L156.03,643.99 L156.11,643.68 L156.20,643.37 L156.29,643.06 L156.38,642.74 L156.47,642.43 L156.57,642.12 L156.66,641.81 L156.76,641.50 L156.86,641.19 L156.97,640.88 L157.07,640.57 L157.17,640.27 L157.28,639.96 L157.39,639.65 L157.50,639.35 L157.62,639.04 L157.73,638.74 L157.85,638.44 L157.96,638.13 L158.08,637.83 L158.21,637.53 L158.33,637.23 L158.46,636.93 L158.58,636.63 L158.71,636.33 L158.84,636.03 L158.97,635.74 L159.11,635.44 L159.24,635.14 L159.38,634.85 L159.52,634.56 L159.66,634.26 L159.80,633.97 L159.95,633.68 L160.09,633.39 L160.24,633.10 L160.39,632.81 L160.54,632.52 L160.69,632.23 L160.85,631.95 L161.01,631.66 L161.16,631.38 L161.32,631.10 L161.48,630.81 L161.65,630.53 L161.81,630.25 L161.98,629.97 L162.14,629.69 L162.31,629.42 L162.48,629.14 L162.66,628.86 L162.83,628.59 L163.01,628.32 L163.18,628.04 L163.36,627.77 L163.54,627.50 L163.73,627.23 L163.91,626.96 L164.09,626.70 L164.28,626.43 L164.47,626.16 L164.66,625.90 L164.85,625.64 L165.04,625.38 L165.24,625.12 L165.43,624.86 L165.63,624.60 L165.83,624.34 L166.03,624.08 L166.23,623.83 L166.44,623.58 L166.64,623.32 L166.85,623.07 L167.06,622.82 L167.27,622.57 L167.48,622.33 L167.69,622.08 L167.90,621.84 L168.12,621.59 L168.33,621.35 L168.55,621.11 L168.77,620.87 L168.99,620.63 L169.21,620.39 L169.44,620.15 L169.66,619.92 L169.89,619.69 L170.12,619.45 L170.35,619.22 L170.58,618.99 L170.81,618.77 L171.04,618.54 L171.28,618.31 L171.51,618.09 L171.75,617.87 L171.99,617.65 L172.23,617.43 L172.47,617.21 L172.71,616.99 L172.95,616.78 L173.20,616.56 L173.44,616.35 L173.69,616.14 L173.94,615.93 L174.19,615.72 L174.44,615.51 L174.69,615.31 L174.94,615.10 L175.20,614.90 L175.45,614.70 L175.71,614.50 L175.96,614.30 L176.20,614.10 L176.45,613.90 L176.69,613.71 L176.94,613.51 L177.20,613.32 L177.46,613.13 L177.73,612.95 L178.01,612.76 L178.30,612.58 L178.61,612.41 L178.91,612.24 L179.18,612.09 L179.44,611.94 L179.70,611.81 L179.97,611.67 L180.25,611.54 L180.57,611.40 L180.93,611.25 L181.34,611.09 L181.81,610.92 L182.36,610.72 L183.00,610.50 L183.73,610.25 L184.56,609.99 L185.47,609.70 L186.44,609.40 L187.46,609.09 L188.52,608.76 L189.61,608.43 L190.72,608.10 L191.82,607.77 L192.91,607.44 L193.98,607.11 L195.00,606.80" stroke="#3d8482" stroke-width="3.9" fill="none" stroke-linecap="round" stroke-linejoin="round"/>
<text transform="translate(321.07,587.40) scale(1,1.015)" font-size="29.5" fill="#fff" stroke="#fff" stroke-width="2.2" stroke-linejoin="round">Ar</text><text transform="translate(321.07,587.40) scale(1,1.015)" font-size="29.5" fill="#000" stroke="#000" stroke-width="0.6">Ar</text>
<line x1="321.20" y1="594.40" x2="312.90" y2="609.10" stroke="#000" stroke-width="3.9" stroke-linecap="round"/>
<line x1="275.30" y1="609.10" x2="312.90" y2="609.10" stroke="#000" stroke-width="3.9" stroke-linecap="round"/>
<line x1="275.30" y1="619.50" x2="314.10" y2="619.50" stroke="#000" stroke-width="3.9" stroke-linecap="round"/>
<text transform="translate(479.65,512.00) scale(1,1.015)" font-size="29.5" fill="#fff" stroke="#fff" stroke-width="2.2" stroke-linejoin="round">Sb</text><text transform="translate(479.65,512.00) scale(1,1.015)" font-size="29.5" fill="#000" stroke="#000" stroke-width="0.6">Sb</text>
<rect x="519.70" y="485.10" width="2.9" height="14.80" fill="#000"/>
<rect x="526.45" y="485.10" width="2.9" height="14.80" fill="#000"/>
<rect x="533.20" y="485.10" width="2.9" height="14.80" fill="#000"/>
<text transform="translate(538.31,512.00) scale(1,1.015)" font-size="29.5" fill="#fff" stroke="#fff" stroke-width="2.2" stroke-linejoin="round">/</text><text transform="translate(538.31,512.00) scale(1,1.015)" font-size="29.5" fill="#000" stroke="#000" stroke-width="0.6">/</text>
<text transform="translate(547.35,512.00) scale(1,1.015)" font-size="29.5" fill="#fff" stroke="#fff" stroke-width="2.2" stroke-linejoin="round">Sb</text><text transform="translate(547.35,512.00) scale(1,1.015)" font-size="29.5" fill="#000" stroke="#000" stroke-width="0.6">Sb</text>
<rect x="585.70" y="485.10" width="2.9" height="14.80" fill="#000"/>
<rect x="592.45" y="485.10" width="2.9" height="14.80" fill="#000"/>
<line x1="282.10" y1="421.10" x2="324.20" y2="416.00" stroke="#999999" stroke-width="3.5" stroke-linecap="round"/>
<line x1="324.20" y1="416.00" x2="355.90" y2="433.80" stroke="#999999" stroke-width="3.5" stroke-linecap="round"/>
<line x1="355.90" y1="433.80" x2="343.80" y2="458.10" stroke="#999999" stroke-width="3.5" stroke-linecap="round"/>
<line x1="343.80" y1="458.10" x2="300.60" y2="463.00" stroke="#999999" stroke-width="3.5" stroke-linecap="round"/>
<line x1="300.60" y1="463.00" x2="271.40" y2="444.00" stroke="#999999" stroke-width="3.5" stroke-linecap="round"/>
<line x1="271.40" y1="444.00" x2="282.10" y2="421.10" stroke="#999999" stroke-width="3.5" stroke-linecap="round"/>
<line x1="271.40" y1="444.00" x2="229.00" y2="449.40" stroke="#999999" stroke-width="3.5" stroke-linecap="round"/>
<line x1="229.00" y1="449.40" x2="218.70" y2="474.80" stroke="#999999" stroke-width="3.5" stroke-linecap="round"/>
<line x1="291.90" y1="486.20" x2="300.60" y2="463.00" stroke="#999999" stroke-width="3.5" stroke-linecap="round"/>
<line x1="218.70" y1="474.80" x2="249.80" y2="490.90" stroke="#999999" stroke-width="5.2" stroke-linecap="round"/>
<line x1="249.80" y1="490.90" x2="291.90" y2="486.20" stroke="#999999" stroke-width="5.2" stroke-linecap="round"/>
<line x1="286.70" y1="426.90" x2="323.00" y2="422.90" stroke="#999999" stroke-width="3.5" stroke-linecap="round"/>
<line x1="342.10" y1="438.40" x2="337.50" y2="448.30" stroke="#999999" stroke-width="3.5" stroke-linecap="round"/>
<line x1="233.10" y1="456.30" x2="270.00" y2="451.70" stroke="#999999" stroke-width="3.5" stroke-linecap="round"/>
<line x1="229.60" y1="470.20" x2="252.70" y2="483.40" stroke="#999999" stroke-width="3.5" stroke-linecap="round"/>
<line x1="285.00" y1="477.70" x2="288.00" y2="471.30" stroke="#999999" stroke-width="3.5" stroke-linecap="round"/>
<text transform="translate(238.03,468.40) scale(1,1.015)" font-size="29.5" fill="#fff" stroke="#fff" stroke-width="2.2" stroke-linejoin="round">Et</text>
<text transform="translate(267.53,475.40) scale(1,1.015)" font-size="21.5" fill="#fff" stroke="#fff" stroke-width="2.2" stroke-linejoin="round">3</text>
<text transform="translate(279.48,468.40) scale(1,1.015)" font-size="29.5" fill="#fff" stroke="#fff" stroke-width="2.2" stroke-linejoin="round">Si</text>
<text transform="translate(238.03,468.40) scale(1,1.015)" font-size="29.5" fill="#000" stroke="#000" stroke-width="0.6">Et</text>
<text transform="translate(267.53,475.40) scale(1,1.015)" font-size="21.5" fill="#000" stroke="#000" stroke-width="0.6">3</text>
<text transform="translate(279.48,468.40) scale(1,1.015)" font-size="29.5" fill="#000" stroke="#000" stroke-width="0.6">Si</text>
<text transform="translate(387.45,450.20) scale(1,1.015)" font-size="29.5" fill="#fff" stroke="#fff" stroke-width="2.2" stroke-linejoin="round">SiEt</text>
<text transform="translate(444.82,457.20) scale(1,1.015)" font-size="21.5" fill="#fff" stroke="#fff" stroke-width="2.2" stroke-linejoin="round">3</text>
<text transform="translate(387.45,450.20) scale(1,1.015)" font-size="29.5" fill="#000" stroke="#000" stroke-width="0.6">SiEt</text>
<text transform="translate(444.82,457.20) scale(1,1.015)" font-size="21.5" fill="#000" stroke="#000" stroke-width="0.6">3</text>
<text transform="translate(363.73,486.00) scale(1,1.015)" font-size="29.5" fill="#fff" stroke="#fff" stroke-width="2.2" stroke-linejoin="round">N</text><text transform="translate(363.73,486.00) scale(1,1.015)" font-size="29.5" fill="#000" stroke="#000" stroke-width="0.6">N</text>
<text transform="translate(324.13,508.70) scale(1,1.015)" font-size="29.5" fill="#fff" stroke="#fff" stroke-width="2.2" stroke-linejoin="round">N</text><text transform="translate(324.13,508.70) scale(1,1.015)" font-size="29.5" fill="#000" stroke="#000" stroke-width="0.6">N</text>
<text transform="translate(373.75,540.70) scale(1,1.015)" font-size="29.5" fill="#fff" stroke="#fff" stroke-width="2.2" stroke-linejoin="round">Sb</text><text transform="translate(373.75,540.70) scale(1,1.015)" font-size="29.5" fill="#000" stroke="#000" stroke-width="0.6">Sb</text>
<line x1="343.90" y1="457.80" x2="360.90" y2="467.50" stroke="#000" stroke-width="3.9" stroke-linecap="round"/>
<line x1="383.50" y1="461.80" x2="389.10" y2="452.90" stroke="#000" stroke-width="3.9" stroke-linecap="round"/>
<line x1="378.60" y1="490.90" x2="381.90" y2="514.30" stroke="#000" stroke-width="3.9" stroke-linecap="round"/>
<line x1="312.40" y1="468.30" x2="324.50" y2="484.40" stroke="#000" stroke-width="3.9" stroke-linecap="round"/>
<line x1="292.50" y1="486.90" x2="317.30" y2="494.40" stroke="#000" stroke-width="5.8" stroke-linecap="butt"/>
<line x1="349.60" y1="508.20" x2="369.70" y2="519.10" stroke="#000" stroke-width="5.8" stroke-linecap="butt"/>
<circle cx="407.40" cy="513.70" r="2.6" fill="#000"/>
<rect x="413.20" y="514.50" width="3.1" height="14.80" fill="#8a0000"/>
<rect x="420.20" y="514.50" width="3.1" height="14.80" fill="#8a0000"/>
<line x1="616.30" y1="394.40" x2="658.40" y2="389.30" stroke="#999999" stroke-width="3.5" stroke-linecap="round"/>
<line x1="658.40" y1="389.30" x2="690.10" y2="407.10" stroke="#999999" stroke-width="3.5" stroke-linecap="round"/>
<line x1="690.10" y1="407.10" x2="678.00" y2="431.40" stroke="#999999" stroke-width="3.5" stroke-linecap="round"/>
<line x1="678.00" y1="431.40" x2="634.80" y2="436.30" stroke="#999999" stroke-width="3.5" stroke-linecap="round"/>
<line x1="634.80" y1="436.30" x2="605.60" y2="417.30" stroke="#999999" stroke-width="3.5" stroke-linecap="round"/>
<line x1="605.60" y1="417.30" x2="616.30" y2="394.40" stroke="#999999" stroke-width="3.5" stroke-linecap="round"/>
<line x1="605.60" y1="417.30" x2="563.20" y2="422.70" stroke="#999999" stroke-width="3.5" stroke-linecap="round"/>
<line x1="563.20" y1="422.70" x2="552.90" y2="448.10" stroke="#999999" stroke-width="3.5" stroke-linecap="round"/>
<line x1="626.10" y1="459.50" x2="634.80" y2="436.30" stroke="#999999" stroke-width="3.5" stroke-linecap="round"/>
<line x1="552.90" y1="448.10" x2="584.00" y2="464.20" stroke="#999999" stroke-width="5.2" stroke-linecap="round"/>
<line x1="584.00" y1="464.20" x2="626.10" y2="459.50" stroke="#999999" stroke-width="5.2" stroke-linecap="round"/>
<line x1="620.90" y1="400.20" x2="657.20" y2="396.20" stroke="#999999" stroke-width="3.5" stroke-linecap="round"/>
<line x1="676.30" y1="411.70" x2="671.70" y2="421.60" stroke="#999999" stroke-width="3.5" stroke-linecap="round"/>
<line x1="567.30" y1="429.60" x2="604.20" y2="425.00" stroke="#999999" stroke-width="3.5" stroke-linecap="round"/>
<line x1="563.80" y1="443.50" x2="586.90" y2="456.70" stroke="#999999" stroke-width="3.5" stroke-linecap="round"/>
<line x1="619.20" y1="451.00" x2="622.20" y2="444.60" stroke="#999999" stroke-width="3.5" stroke-linecap="round"/>
<text transform="translate(571.83,441.70) scale(1,1.015)" font-size="29.5" fill="#fff" stroke="#fff" stroke-width="2.2" stroke-linejoin="round">Et</text>
<text transform="translate(601.33,448.70) scale(1,1.015)" font-size="21.5" fill="#fff" stroke="#fff" stroke-width="2.2" stroke-linejoin="round">3</text>
<text transform="translate(613.28,441.70) scale(1,1.015)" font-size="29.5" fill="#fff" stroke="#fff" stroke-width="2.2" stroke-linejoin="round">Si</text>
<text transform="translate(571.83,441.70) scale(1,1.015)" font-size="29.5" fill="#000" stroke="#000" stroke-width="0.6">Et</text>
<text transform="translate(601.33,448.70) scale(1,1.015)" font-size="21.5" fill="#000" stroke="#000" stroke-width="0.6">3</text>
<text transform="translate(613.28,441.70) scale(1,1.015)" font-size="29.5" fill="#000" stroke="#000" stroke-width="0.6">Si</text>
<text transform="translate(720.45,423.30) scale(1,1.015)" font-size="29.5" fill="#fff" stroke="#fff" stroke-width="2.2" stroke-linejoin="round">SiEt</text>
<text transform="translate(777.82,430.30) scale(1,1.015)" font-size="21.5" fill="#fff" stroke="#fff" stroke-width="2.2" stroke-linejoin="round">3</text>
<text transform="translate(720.45,423.30) scale(1,1.015)" font-size="29.5" fill="#000" stroke="#000" stroke-width="0.6">SiEt</text>
<text transform="translate(777.82,430.30) scale(1,1.015)" font-size="21.5" fill="#000" stroke="#000" stroke-width="0.6">3</text>
<text transform="translate(697.83,458.80) scale(1,1.015)" font-size="29.5" fill="#fff" stroke="#fff" stroke-width="2.2" stroke-linejoin="round">N</text><text transform="translate(697.83,458.80) scale(1,1.015)" font-size="29.5" fill="#000" stroke="#000" stroke-width="0.6">N</text>
<text transform="translate(656.13,484.50) scale(1,1.015)" font-size="29.5" fill="#fff" stroke="#fff" stroke-width="2.2" stroke-linejoin="round">N</text><text transform="translate(656.13,484.50) scale(1,1.015)" font-size="29.5" fill="#000" stroke="#000" stroke-width="0.6">N</text>
<text transform="translate(705.15,501.50) scale(1,1.015)" font-size="29.5" fill="#fff" stroke="#fff" stroke-width="2.2" stroke-linejoin="round">Sb</text><text transform="translate(705.15,501.50) scale(1,1.015)" font-size="29.5" fill="#000" stroke="#000" stroke-width="0.6">Sb</text>
<line x1="676.80" y1="430.30" x2="693.50" y2="440.80" stroke="#000" stroke-width="3.9" stroke-linecap="round"/>
<line x1="717.20" y1="434.50" x2="722.70" y2="425.50" stroke="#000" stroke-width="3.9" stroke-linecap="round"/>
<line x1="710.90" y1="464.40" x2="712.30" y2="476.90" stroke="#000" stroke-width="3.9" stroke-linecap="round"/>
<line x1="647.00" y1="442.10" x2="658.10" y2="459.50" stroke="#000" stroke-width="3.9" stroke-linecap="round"/>
<line x1="626.70" y1="460.20" x2="651.50" y2="467.70" stroke="#000" stroke-width="5.8" stroke-linecap="butt"/>
<line x1="681.70" y1="480.40" x2="698.40" y2="486.60" stroke="#000" stroke-width="5.8" stroke-linecap="butt"/>
<rect x="744.50" y="475.90" width="3.1" height="14.70" fill="#8a0000"/>
<rect x="751.25" y="475.90" width="3.1" height="14.70" fill="#8a0000"/>
<rect x="758.00" y="475.90" width="3.1" height="14.70" fill="#8a0000"/>
<line x1="713.50" y1="507.50" x2="715.50" y2="533.50" stroke="#000" stroke-width="3.9" stroke-linecap="round"/>
<line x1="715.50" y1="530.60" x2="759.70" y2="541.20" stroke="#000" stroke-width="3.9" stroke-linecap="round"/>
<line x1="711.60" y1="539.30" x2="755.90" y2="551.80" stroke="#000" stroke-width="3.9" stroke-linecap="round"/>
<line x1="757.80" y1="545.40" x2="788.60" y2="554.70" stroke="#000" stroke-width="3.9" stroke-linecap="round"/>
<line x1="714.50" y1="536.40" x2="694.30" y2="550.80" stroke="#000" stroke-width="3.9" stroke-linecap="round"/>
<circle cx="765.50" cy="534.50" r="2.5" fill="#000"/>
<text transform="translate(670.13,571.00) scale(1,1.015)" font-size="29.5" fill="#fff" stroke="#fff" stroke-width="2.2" stroke-linejoin="round">H</text><text transform="translate(670.13,571.00) scale(1,1.015)" font-size="29.5" fill="#000" stroke="#000" stroke-width="0.6">H</text>
<text transform="translate(787.87,567.20) scale(1,1.015)" font-size="29.5" fill="#fff" stroke="#fff" stroke-width="2.2" stroke-linejoin="round">Ar</text><text transform="translate(787.87,567.20) scale(1,1.015)" font-size="29.5" fill="#000" stroke="#000" stroke-width="0.6">Ar</text>
<line x1="250.14" y1="677.20" x2="292.15" y2="667.86" stroke="#999999" stroke-width="3.5" stroke-linecap="round"/>
<line x1="292.15" y1="667.86" x2="326.54" y2="682.15" stroke="#999999" stroke-width="3.5" stroke-linecap="round"/>
<line x1="326.54" y1="682.15" x2="316.49" y2="705.70" stroke="#999999" stroke-width="3.5" stroke-linecap="round"/>
<line x1="316.49" y1="705.70" x2="273.80" y2="714.04" stroke="#999999" stroke-width="3.5" stroke-linecap="round"/>
<line x1="273.80" y1="714.04" x2="244.34" y2="700.98" stroke="#999999" stroke-width="3.5" stroke-linecap="round"/>
<line x1="244.34" y1="700.98" x2="250.14" y2="677.20" stroke="#999999" stroke-width="3.5" stroke-linecap="round"/>
<line x1="244.34" y1="700.98" x2="201.52" y2="710.20" stroke="#999999" stroke-width="3.5" stroke-linecap="round"/>
<line x1="201.52" y1="710.20" x2="192.83" y2="736.13" stroke="#999999" stroke-width="3.5" stroke-linecap="round"/>
<line x1="267.45" y1="739.36" x2="273.80" y2="714.04" stroke="#999999" stroke-width="3.5" stroke-linecap="round"/>
<line x1="192.83" y1="736.13" x2="227.53" y2="750.43" stroke="#999999" stroke-width="5.2" stroke-linecap="round"/>
<line x1="227.53" y1="750.43" x2="267.45" y2="739.36" stroke="#999999" stroke-width="5.2" stroke-linecap="round"/>
<line x1="255.26" y1="683.31" x2="291.80" y2="674.57" stroke="#999999" stroke-width="3.5" stroke-linecap="round"/>
<line x1="312.64" y1="688.03" x2="308.96" y2="698.72" stroke="#999999" stroke-width="3.5" stroke-linecap="round"/>
<line x1="242.47" y1="707.65" x2="206.65" y2="716.02" stroke="#999999" stroke-width="3.5" stroke-linecap="round"/>
<line x1="204.01" y1="729.97" x2="228.87" y2="740.33" stroke="#999999" stroke-width="3.5" stroke-linecap="round"/>
<line x1="259.45" y1="730.91" x2="263.10" y2="721.77" stroke="#999999" stroke-width="3.5" stroke-linecap="round"/>
<text transform="translate(210.73,720.40) scale(1,1.015)" font-size="29.5" fill="#fff" stroke="#fff" stroke-width="2.2" stroke-linejoin="round">Et</text>
<text transform="translate(240.23,727.40) scale(1,1.015)" font-size="21.5" fill="#fff" stroke="#fff" stroke-width="2.2" stroke-linejoin="round">3</text>
<text transform="translate(252.18,720.40) scale(1,1.015)" font-size="29.5" fill="#fff" stroke="#fff" stroke-width="2.2" stroke-linejoin="round">Si</text>
<text transform="translate(210.73,720.40) scale(1,1.015)" font-size="29.5" fill="#000" stroke="#000" stroke-width="0.6">Et</text>
<text transform="translate(240.23,727.40) scale(1,1.015)" font-size="21.5" fill="#000" stroke="#000" stroke-width="0.6">3</text>
<text transform="translate(252.18,720.40) scale(1,1.015)" font-size="29.5" fill="#000" stroke="#000" stroke-width="0.6">Si</text>
<text transform="translate(358.05,693.60) scale(1,1.015)" font-size="29.5" fill="#fff" stroke="#fff" stroke-width="2.2" stroke-linejoin="round">SiEt</text>
<text transform="translate(415.42,700.60) scale(1,1.015)" font-size="21.5" fill="#fff" stroke="#fff" stroke-width="2.2" stroke-linejoin="round">3</text>
<text transform="translate(358.05,693.60) scale(1,1.015)" font-size="29.5" fill="#000" stroke="#000" stroke-width="0.6">SiEt</text>
<text transform="translate(415.42,700.60) scale(1,1.015)" font-size="21.5" fill="#000" stroke="#000" stroke-width="0.6">3</text>
<text transform="translate(339.63,733.40) scale(1,1.015)" font-size="29.5" fill="#fff" stroke="#fff" stroke-width="2.2" stroke-linejoin="round">N</text><text transform="translate(339.63,733.40) scale(1,1.015)" font-size="29.5" fill="#000" stroke="#000" stroke-width="0.6">N</text>
<text transform="translate(300.83,760.30) scale(1,1.015)" font-size="29.5" fill="#fff" stroke="#fff" stroke-width="2.2" stroke-linejoin="round">N</text><text transform="translate(300.83,760.30) scale(1,1.015)" font-size="29.5" fill="#000" stroke="#000" stroke-width="0.6">N</text>
<text transform="translate(349.05,777.20) scale(1,1.015)" font-size="29.5" fill="#fff" stroke="#fff" stroke-width="2.2" stroke-linejoin="round">Sb</text><text transform="translate(349.05,777.20) scale(1,1.015)" font-size="29.5" fill="#000" stroke="#000" stroke-width="0.6">Sb</text>
<line x1="316.70" y1="706.40" x2="334.70" y2="715.40" stroke="#000" stroke-width="3.9" stroke-linecap="round"/>
<line x1="356.10" y1="707.10" x2="361.70" y2="697.40" stroke="#000" stroke-width="3.9" stroke-linecap="round"/>
<line x1="352.70" y1="738.20" x2="355.40" y2="751.30" stroke="#000" stroke-width="3.9" stroke-linecap="round"/>
<line x1="286.20" y1="719.50" x2="300.80" y2="736.10" stroke="#000" stroke-width="3.9" stroke-linecap="round"/>
<line x1="268.50" y1="741.40" x2="295.90" y2="746.50" stroke="#000" stroke-width="5.6" stroke-linecap="butt"/>
<line x1="327.10" y1="755.00" x2="344.40" y2="759.70" stroke="#000" stroke-width="5.6" stroke-linecap="butt"/>
<rect x="388.70" y="749.80" width="3.1" height="14.50" fill="#8a0000"/>
<rect x="395.50" y="749.80" width="3.1" height="14.50" fill="#8a0000"/>
<rect x="402.30" y="749.80" width="3.1" height="14.50" fill="#8a0000"/>
<line x1="358.00" y1="782.50" x2="357.00" y2="795.40" stroke="#000" stroke-width="3.9" stroke-linecap="round"/>
<text transform="translate(346.73,821.40) scale(1,1.015)" font-size="29.5" fill="#fff" stroke="#fff" stroke-width="2.2" stroke-linejoin="round">H</text><text transform="translate(346.73,821.40) scale(1,1.015)" font-size="29.5" fill="#000" stroke="#000" stroke-width="0.6">H</text>
<text transform="translate(261.24,823.50) scale(1,1.015)" font-size="29.5" fill="#fff" stroke="#fff" stroke-width="2.2" stroke-linejoin="round">[</text><text transform="translate(261.24,823.50) scale(1,1.015)" font-size="29.5" fill="#000" stroke="#000" stroke-width="0.6">[</text>
<text transform="translate(269.85,823.50) scale(1,1.015)" font-size="29.5" fill="#fff" stroke="#fff" stroke-width="2.2" stroke-linejoin="round">Sb</text><text transform="translate(269.85,823.50) scale(1,1.015)" font-size="29.5" fill="#2c6fa3" stroke="#2c6fa3" stroke-width="0.6">Sb</text>
<text transform="translate(307.74,823.50) scale(1,1.015)" font-size="29.5" fill="#fff" stroke="#fff" stroke-width="2.2" stroke-linejoin="round">]</text><text transform="translate(307.74,823.50) scale(1,1.015)" font-size="29.5" fill="#000" stroke="#000" stroke-width="0.6">]</text>
<text transform="translate(464.47,794.00) scale(1,1.015)" font-size="28.8" fill="#fff" stroke="#fff" stroke-width="2.2" stroke-linejoin="round">H transfer</text><text transform="translate(464.47,794.00) scale(1,1.015)" font-size="28.8" fill="#800080" stroke="#800080" stroke-width="0.6">H transfer</text>
<line x1="653.80" y1="668.30" x2="695.90" y2="663.20" stroke="#999999" stroke-width="3.5" stroke-linecap="round"/>
<line x1="695.90" y1="663.20" x2="727.60" y2="681.00" stroke="#999999" stroke-width="3.5" stroke-linecap="round"/>
<line x1="727.60" y1="681.00" x2="715.50" y2="705.30" stroke="#999999" stroke-width="3.5" stroke-linecap="round"/>
<line x1="715.50" y1="705.30" x2="672.30" y2="710.20" stroke="#999999" stroke-width="3.5" stroke-linecap="round"/>
<line x1="672.30" y1="710.20" x2="643.10" y2="691.20" stroke="#999999" stroke-width="3.5" stroke-linecap="round"/>
<line x1="643.10" y1="691.20" x2="653.80" y2="668.30" stroke="#999999" stroke-width="3.5" stroke-linecap="round"/>
<line x1="643.10" y1="691.20" x2="600.70" y2="696.60" stroke="#999999" stroke-width="3.5" stroke-linecap="round"/>
<line x1="600.70" y1="696.60" x2="590.40" y2="722.00" stroke="#999999" stroke-width="3.5" stroke-linecap="round"/>
<line x1="663.60" y1="733.40" x2="672.30" y2="710.20" stroke="#999999" stroke-width="3.5" stroke-linecap="round"/>
<line x1="590.40" y1="722.00" x2="621.50" y2="738.10" stroke="#999999" stroke-width="5.2" stroke-linecap="round"/>
<line x1="621.50" y1="738.10" x2="663.60" y2="733.40" stroke="#999999" stroke-width="5.2" stroke-linecap="round"/>
<line x1="658.40" y1="674.10" x2="694.70" y2="670.10" stroke="#999999" stroke-width="3.5" stroke-linecap="round"/>
<line x1="713.80" y1="685.60" x2="709.20" y2="695.50" stroke="#999999" stroke-width="3.5" stroke-linecap="round"/>
<line x1="604.80" y1="703.50" x2="641.70" y2="698.90" stroke="#999999" stroke-width="3.5" stroke-linecap="round"/>
<line x1="601.30" y1="717.40" x2="624.40" y2="730.60" stroke="#999999" stroke-width="3.5" stroke-linecap="round"/>
<line x1="656.70" y1="724.90" x2="659.70" y2="718.50" stroke="#999999" stroke-width="3.5" stroke-linecap="round"/>
<text transform="translate(610.73,715.70) scale(1,1.015)" font-size="29.5" fill="#fff" stroke="#fff" stroke-width="2.2" stroke-linejoin="round">Et</text>
<text transform="translate(640.23,722.70) scale(1,1.015)" font-size="21.5" fill="#fff" stroke="#fff" stroke-width="2.2" stroke-linejoin="round">3</text>
<text transform="translate(652.18,715.70) scale(1,1.015)" font-size="29.5" fill="#fff" stroke="#fff" stroke-width="2.2" stroke-linejoin="round">Si</text>
<text transform="translate(610.73,715.70) scale(1,1.015)" font-size="29.5" fill="#000" stroke="#000" stroke-width="0.6">Et</text>
<text transform="translate(640.23,722.70) scale(1,1.015)" font-size="21.5" fill="#000" stroke="#000" stroke-width="0.6">3</text>
<text transform="translate(652.18,715.70) scale(1,1.015)" font-size="29.5" fill="#000" stroke="#000" stroke-width="0.6">Si</text>
<text transform="translate(758.65,697.20) scale(1,1.015)" font-size="29.5" fill="#fff" stroke="#fff" stroke-width="2.2" stroke-linejoin="round">SiEt</text>
<text transform="translate(816.02,704.20) scale(1,1.015)" font-size="21.5" fill="#fff" stroke="#fff" stroke-width="2.2" stroke-linejoin="round">3</text>
<text transform="translate(758.65,697.20) scale(1,1.015)" font-size="29.5" fill="#000" stroke="#000" stroke-width="0.6">SiEt</text>
<text transform="translate(816.02,704.20) scale(1,1.015)" font-size="21.5" fill="#000" stroke="#000" stroke-width="0.6">3</text>
<text transform="translate(736.33,733.80) scale(1,1.015)" font-size="29.5" fill="#fff" stroke="#fff" stroke-width="2.2" stroke-linejoin="round">N</text><text transform="translate(736.33,733.80) scale(1,1.015)" font-size="29.5" fill="#000" stroke="#000" stroke-width="0.6">N</text>
<text transform="translate(682.43,762.60) scale(1,1.015)" font-size="29.5" fill="#fff" stroke="#fff" stroke-width="2.2" stroke-linejoin="round">N</text><text transform="translate(682.43,762.60) scale(1,1.015)" font-size="29.5" fill="#000" stroke="#000" stroke-width="0.6">N</text>
<text transform="translate(748.05,769.50) scale(1,1.015)" font-size="29.5" fill="#fff" stroke="#fff" stroke-width="2.2" stroke-linejoin="round">Sb</text><text transform="translate(748.05,769.50) scale(1,1.015)" font-size="29.5" fill="#000" stroke="#000" stroke-width="0.6">Sb</text>
<line x1="714.30" y1="704.90" x2="731.60" y2="714.50" stroke="#000" stroke-width="3.9" stroke-linecap="round"/>
<line x1="754.70" y1="707.80" x2="760.50" y2="700.10" stroke="#000" stroke-width="3.9" stroke-linecap="round"/>
<line x1="751.80" y1="739.50" x2="753.20" y2="744.30" stroke="#000" stroke-width="3.9" stroke-linecap="round"/>
<line x1="680.50" y1="717.80" x2="687.40" y2="736.50" stroke="#000" stroke-width="3.9" stroke-linecap="round"/>
<line x1="664.50" y1="735.10" x2="677.70" y2="742.70" stroke="#000" stroke-width="5.8" stroke-linecap="butt"/>
<line x1="706.60" y1="752.00" x2="743.20" y2="755.90" stroke="#000" stroke-width="5.8" stroke-linecap="butt"/>
<rect x="787.00" y="743.60" width="3.1" height="14.60" fill="#8a0000"/>
<rect x="793.75" y="743.60" width="3.1" height="14.60" fill="#8a0000"/>
<rect x="800.50" y="743.60" width="3.1" height="14.60" fill="#8a0000"/>
<line x1="758.20" y1="772.70" x2="760.00" y2="799.10" stroke="#000" stroke-width="3.9" stroke-linecap="round"/>
<line x1="759.10" y1="797.30" x2="805.50" y2="809.10" stroke="#000" stroke-width="3.9" stroke-linecap="round"/>
<line x1="756.40" y1="804.50" x2="802.70" y2="816.40" stroke="#000" stroke-width="3.9" stroke-linecap="round"/>
<line x1="756.40" y1="802.70" x2="737.30" y2="814.50" stroke="#000" stroke-width="3.9" stroke-linecap="round"/>
<line x1="805.50" y1="809.10" x2="821.80" y2="798.20" stroke="#000" stroke-width="3.9" stroke-linecap="round"/>
<line x1="803.60" y1="813.60" x2="812.70" y2="835.50" stroke="#000" stroke-width="3.9" stroke-linecap="round"/>
<text transform="translate(713.53,834.50) scale(1,1.015)" font-size="29.5" fill="#fff" stroke="#fff" stroke-width="2.2" stroke-linejoin="round">H</text><text transform="translate(713.53,834.50) scale(1,1.015)" font-size="29.5" fill="#000" stroke="#000" stroke-width="0.6">H</text>
<text transform="translate(825.67,799.10) scale(1,1.015)" font-size="29.5" fill="#fff" stroke="#fff" stroke-width="2.2" stroke-linejoin="round">Ar</text><text transform="translate(825.67,799.10) scale(1,1.015)" font-size="29.5" fill="#000" stroke="#000" stroke-width="0.6">Ar</text>
<text transform="translate(808.03,862.70) scale(1,1.015)" font-size="29.5" fill="#fff" stroke="#fff" stroke-width="2.2" stroke-linejoin="round">H</text><text transform="translate(808.03,862.70) scale(1,1.015)" font-size="29.5" fill="#000" stroke="#000" stroke-width="0.6">H</text>
</svg></body></html>
